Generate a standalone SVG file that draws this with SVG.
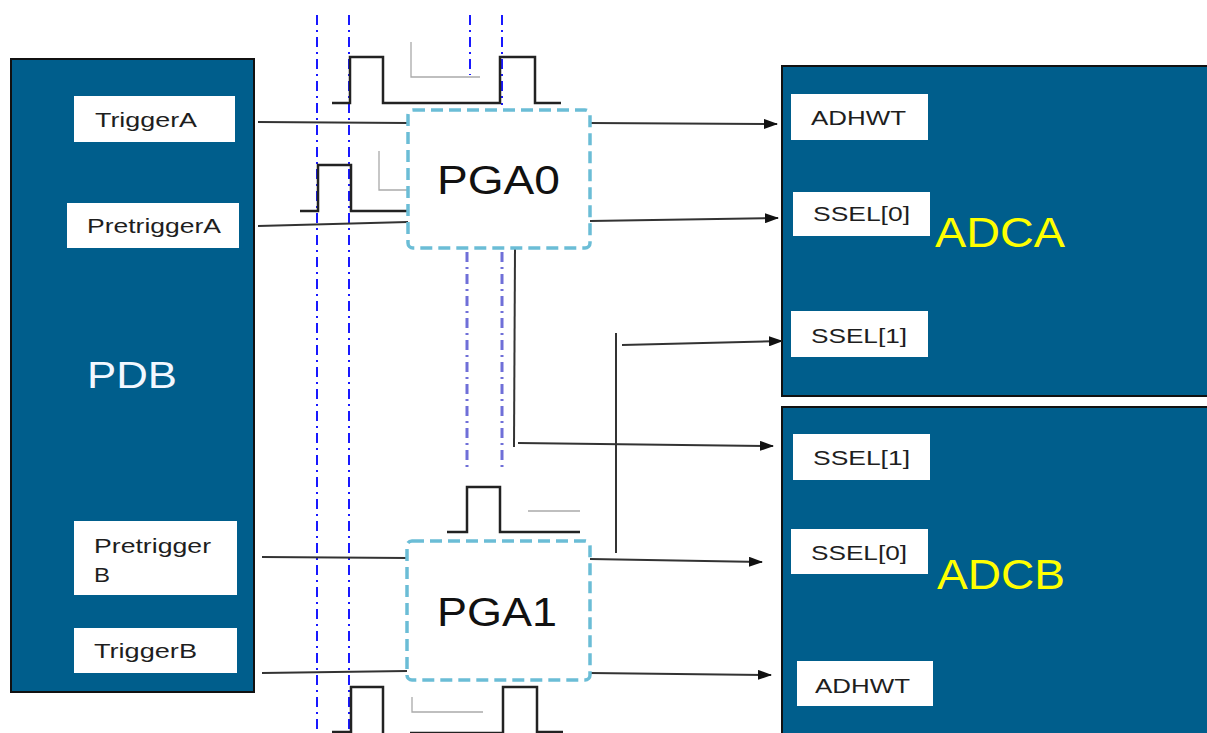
<svg xmlns="http://www.w3.org/2000/svg" width="1207" height="733" viewBox="0 0 1207 733">
  <style>
    .blk { fill: #005e8c; stroke: #111; stroke-width: 2; }
    .lbl { fill: #ffffff; }
    .lt { font-family: "Liberation Sans", Arial, sans-serif; font-size: 21px; fill: #1e1e1e; }
    .big { font-family: "Liberation Sans", Arial, sans-serif; font-size: 41px; fill: #111; }
    .adc { font-family: "Liberation Sans", Arial, sans-serif; font-size: 43px; fill: #ffff00; }
    .pga { fill: #ffffff; stroke: #6bbdd6; stroke-width: 3.5; stroke-dasharray: 12 6; }
    .wire { fill: none; stroke: #333; stroke-width: 2; }
    .wave { fill: none; stroke: #222; stroke-width: 2.5; }
    .gray { fill: none; stroke: #aaa; stroke-width: 1.3; }
    .dd { fill: none; stroke: #0000ff; stroke-width: 1.8; stroke-dasharray: 10 5 2 5; }
    .dd2 { fill: none; stroke: #6f6fd8; stroke-width: 3; stroke-dasharray: 10 5 2 5; }
  </style>
  <defs>
    <marker id="ah" markerWidth="14" markerHeight="10" refX="13" refY="5" orient="auto" markerUnits="userSpaceOnUse">
      <path d="M0,0 L14,5 L0,10 Z" fill="#111"/>
    </marker>
  </defs>
  <rect width="1207" height="733" fill="#ffffff"/>

  <g id="PDB">
    <rect class="blk" x="11" y="59" width="243" height="633"/>
    <text x="87" y="388" font-family="Liberation Sans, Arial, sans-serif" font-size="36" fill="#f2f8ff" textLength="90" lengthAdjust="spacingAndGlyphs">PDB</text>
    <rect class="lbl" x="74" y="96" width="161" height="46"/>
    <text class="lt" x="95" y="127" textLength="102" lengthAdjust="spacingAndGlyphs">TriggerA</text>
    <rect class="lbl" x="67" y="203" width="172" height="45"/>
    <text class="lt" x="87" y="233" textLength="134" lengthAdjust="spacingAndGlyphs">PretriggerA</text>
    <rect class="lbl" x="74" y="521" width="163" height="74"/>
    <text class="lt" x="94" y="553" textLength="117" lengthAdjust="spacingAndGlyphs">Pretrigger</text>
    <text class="lt" x="94" y="582" textLength="16" lengthAdjust="spacingAndGlyphs">B</text>
    <rect class="lbl" x="74" y="628" width="163" height="45"/>
    <text class="lt" x="94" y="658" textLength="103" lengthAdjust="spacingAndGlyphs">TriggerB</text>
  </g>

  <g id="ADCA">
    <rect class="blk" x="782" y="66" width="440" height="330"/>
    <rect class="lbl" x="791" y="94" width="137" height="46"/>
    <text class="lt" x="811" y="125" textLength="95" lengthAdjust="spacingAndGlyphs">ADHWT</text>
    <rect class="lbl" x="793" y="192" width="137" height="44"/>
    <text class="lt" x="813" y="221" textLength="97" lengthAdjust="spacingAndGlyphs">SSEL[0]</text>
    <rect class="lbl" x="791" y="311" width="137" height="46"/>
    <text class="lt" x="811" y="343" textLength="96" lengthAdjust="spacingAndGlyphs">SSEL[1]</text>
    <text class="adc" x="935" y="247" textLength="130" lengthAdjust="spacingAndGlyphs">ADCA</text>
  </g>

  <g id="ADCB">
    <rect class="blk" x="782" y="407" width="440" height="340"/>
    <rect class="lbl" x="793" y="434" width="137" height="46"/>
    <text class="lt" x="813" y="465" textLength="97" lengthAdjust="spacingAndGlyphs">SSEL[1]</text>
    <rect class="lbl" x="791" y="529" width="137" height="45"/>
    <text class="lt" x="811" y="560" textLength="96" lengthAdjust="spacingAndGlyphs">SSEL[0]</text>
    <rect class="lbl" x="797" y="661" width="136" height="45"/>
    <text class="lt" x="815" y="693" textLength="95" lengthAdjust="spacingAndGlyphs">ADHWT</text>
    <text class="adc" x="937" y="589" textLength="128" lengthAdjust="spacingAndGlyphs">ADCB</text>
  </g>

  <g id="timing">
    <line class="dd" x1="317" y1="15" x2="317" y2="733"/>
    <line class="dd" x1="349" y1="15" x2="349" y2="733"/>
    <line class="dd" x1="470" y1="15" x2="470" y2="75"/>
    <line class="dd" x1="502" y1="15" x2="502" y2="105"/>
    <line class="dd2" x1="467" y1="252" x2="467" y2="470"/>
    <line class="dd2" x1="502" y1="252" x2="502" y2="470"/>
    <path class="wave" d="M332,103 H350 V57 H383 V103 H500 V57 H535 V103 H561"/>
    <path class="gray" d="M411,42 V77 H480"/>
    <path class="wave" d="M300,211 H318 V165 H351 V211 H408"/>
    <path class="gray" d="M379,151 V190 H407"/>
    <path class="wave" d="M447,532 H467 V487 H500 V532 H580"/>
    <path class="gray" d="M528,511 H580"/>
    <path class="wave" d="M332,732 H351 V687 H383 V735"/>
    <path class="wave" d="M410,733 H503 V687 H537 V732 H563"/>
    <path class="gray" d="M412,697 V712 H483"/>
  </g>

  <g id="connectors">
    <line class="wire" x1="258" y1="122" x2="408" y2="123"/>
    <line class="wire" x1="258" y1="226" x2="408" y2="222"/>
    <line class="wire" x1="262" y1="557" x2="407" y2="558"/>
    <line class="wire" x1="262" y1="673" x2="407" y2="671"/>
    <line class="wire" x1="590" y1="123" x2="777" y2="124" marker-end="url(#ah)"/>
    <line class="wire" x1="590" y1="221" x2="778" y2="218" marker-end="url(#ah)"/>
    <line class="wire" x1="515" y1="249" x2="514" y2="447"/>
    <line class="wire" x1="518" y1="443" x2="773" y2="446" marker-end="url(#ah)"/>
    <line class="wire" x1="616" y1="333" x2="616" y2="553"/>
    <line class="wire" x1="622" y1="345" x2="782" y2="341" marker-end="url(#ah)"/>
    <line class="wire" x1="590" y1="559" x2="762" y2="562" marker-end="url(#ah)"/>
    <line class="wire" x1="590" y1="673" x2="771" y2="675" marker-end="url(#ah)"/>
  </g>

  <g id="PGA0">
    <rect class="pga" x="408" y="110" width="182" height="138" rx="5"/>
    <text class="big" x="437" y="194" textLength="123" lengthAdjust="spacingAndGlyphs">PGA0</text>
  </g>
  <g id="PGA1">
    <rect class="pga" x="407" y="541" width="183" height="139" rx="5"/>
    <text class="big" x="437" y="626" textLength="120" lengthAdjust="spacingAndGlyphs">PGA1</text>
  </g>
</svg>
